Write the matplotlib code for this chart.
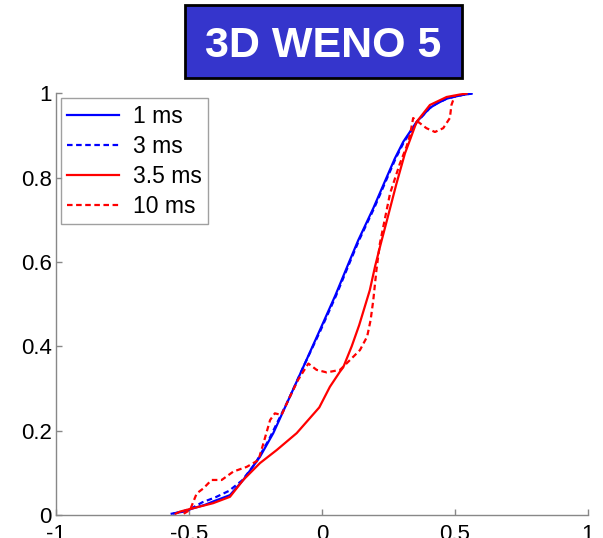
import matplotlib.pyplot as plt
from matplotlib.patches import Rectangle

plt.rcParams['font.family'] = ['Liberation Sans', 'DejaVu Sans']

# --- datos ---
x_1ms = [-0.565, -0.52, -0.484, -0.44, -0.409, -0.346, -0.296, -0.233, -0.183, -0.126,
         -0.07, -0.008, 0.05, 0.105, 0.137, 0.193, 0.243, 0.274, 0.306, 0.356,
         0.406, 0.431, 0.469, 0.494, 0.53, 0.563]
y_1ms = [0.003, 0.008, 0.016, 0.024, 0.032, 0.047, 0.083, 0.138, 0.194, 0.273,
         0.351, 0.438, 0.52, 0.604, 0.652, 0.727, 0.80, 0.845, 0.885, 0.932,
         0.965, 0.975, 0.987, 0.991, 0.996, 0.999]

x_3ms = [-0.56, -0.52, -0.484, -0.45, -0.40, -0.35, -0.30, -0.25, -0.20, -0.126,
         -0.07, -0.005, 0.053, 0.108, 0.14, 0.196, 0.246, 0.277, 0.309, 0.358,
         0.406, 0.431, 0.469, 0.494, 0.53, 0.563]
y_3ms = [0.003, 0.009, 0.018, 0.030, 0.042, 0.057, 0.082, 0.123, 0.178, 0.273,
         0.351, 0.438, 0.52, 0.604, 0.652, 0.727, 0.80, 0.845, 0.885, 0.932,
         0.965, 0.975, 0.987, 0.991, 0.996, 0.999]

x_35ms = [-0.55, -0.534, -0.484, -0.409, -0.346, -0.296, -0.233, -0.170, -0.095, -0.01,
          0.03, 0.068, 0.08, 0.112, 0.14, 0.18, 0.20, 0.22, 0.245, 0.28,
          0.312, 0.331, 0.356, 0.406, 0.469, 0.52, 0.544]
y_35ms = [0.003, 0.008, 0.016, 0.028, 0.043, 0.083, 0.123, 0.154, 0.194, 0.255,
          0.304, 0.34, 0.35, 0.40, 0.45, 0.533, 0.59, 0.64, 0.70, 0.785,
          0.857, 0.889, 0.932, 0.972, 0.991, 0.997, 0.999]

x_10ms = [-0.52, -0.496, -0.471, -0.446, -0.415, -0.377, -0.333, -0.283, -0.239, -0.220,
          -0.195, -0.177, -0.152, -0.126, -0.09, -0.051, -0.02, 0.018, 0.068, 0.105,
          0.143, 0.170, 0.183, 0.193, 0.205, 0.218, 0.256, 0.293, 0.318, 0.331,
          0.343, 0.368, 0.393, 0.425, 0.456, 0.481, 0.487, 0.5]
y_10ms = [0.003, 0.012, 0.051, 0.063, 0.083, 0.083, 0.103, 0.114, 0.130, 0.170,
          0.225, 0.241, 0.237, 0.273, 0.32, 0.359, 0.344, 0.338, 0.344, 0.367,
          0.391, 0.423, 0.462, 0.509, 0.581, 0.644, 0.762, 0.833, 0.873, 0.9,
          0.941, 0.929, 0.917, 0.908, 0.917, 0.941, 0.972, 0.995]

labels = ['1 ms', '3 ms', '3.5 ms', '10 ms']
x_ticks = [-1, -0.5, 0, 0.5, 1]
y_ticks = [0, 0.2, 0.4, 0.6, 0.8, 1]
titulo = '3D WENO 5'

# --- figura ---
fig = plt.figure(figsize=(6.03, 5.38), dpi=100)
ax = fig.add_axes([0.0929, 0.0428, 0.882, 0.784])

lw = 1.6
ax.plot(x_1ms, y_1ms, color='#0000ff', lw=lw, label=labels[0])
ax.plot(x_3ms, y_3ms, color='#0000ff', lw=lw, dashes=(2.5, 1.6), label=labels[1])
ax.plot(x_35ms, y_35ms, color='#ff0000', lw=lw, label=labels[2])
ax.plot(x_10ms, y_10ms, color='#ff0000', lw=lw, dashes=(2.5, 1.6), label=labels[3])

ax.set_xlim(-1, 1)
ax.set_ylim(0, 1)
ax.set_xticks(x_ticks)
ax.set_xticklabels(['-1', '-0.5', '0', '0.5', '1'])
ax.set_yticks(y_ticks)
ax.set_yticklabels(['0', '0.2', '0.4', '0.6', '0.8', '1'])

for s in ['top', 'right']:
    ax.spines[s].set_visible(False)
for s in ['left', 'bottom']:
    ax.spines[s].set_color('#888888')
    ax.spines[s].set_linewidth(1.0)
ax.tick_params(direction='in', length=4, width=1, color='#888888', labelsize=16)
ax.tick_params(axis='y', pad=3)
ax.tick_params(axis='x', pad=6.5)

leg = ax.legend(loc='upper left', fontsize=16.5, frameon=True, fancybox=False,
                handlelength=2.25, handletextpad=0.6, labelspacing=0.31,
                borderaxespad=0.22, borderpad=0.28)
leg.get_frame().set_edgecolor('#888888')
leg.get_frame().set_linewidth(1.0)

# caja del titulo
fig.patches.append(Rectangle((0.307, 0.855), 0.459, 0.1355, transform=fig.transFigure,
                             facecolor='#3535cc', edgecolor='black', lw=2))
fig.text(0.5365, 1 - 57 / 538, titulo, color='white', fontsize=31, fontweight='bold',
         ha='center', va='baseline')

fig.savefig('out.png', dpi=100)
